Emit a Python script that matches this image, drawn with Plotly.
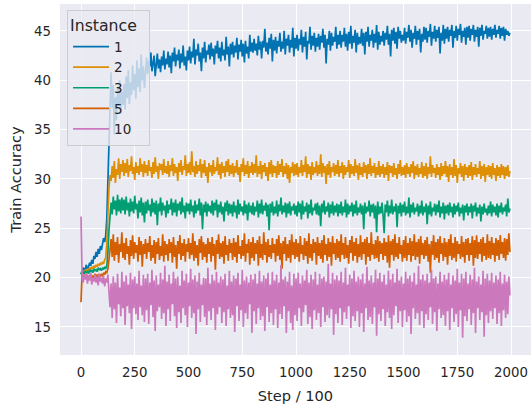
import plotly.graph_objects as go

# Step / 100 axis: one reading every 5 steps, 0 .. 1995 (20 readings per row = 100 steps)
STEP = 5

inst_1 = [
    20.6, 20.4, 21.0, 20.8, 20.9, 21.3, 20.7, 21.1, 21.5, 21.2, 21.8, 21.4, 22.2, 21.9, 22.6, 22.1, 22.9, 22.4, 23.2, 22.8,
    23.4, 24.0, 23.6, 24.3, 26.0, 29.5, 33.0, 36.5, 40.8, 37.2, 39.5, 34.5, 38.3, 36.0, 39.2, 37.4, 40.0, 36.6, 38.8, 37.5,
    39.6, 37.0, 40.4, 38.2, 41.0, 37.6, 39.8, 38.5, 41.5, 39.0, 40.6, 38.1, 42.0, 39.3, 41.2, 38.8, 42.6, 40.0, 41.4, 39.2,
    41.0, 42.3, 40.6, 42.0, 41.4, 42.8, 40.9, 41.8, 42.5, 40.4, 41.9, 42.7, 41.2, 42.1, 40.8, 42.4, 41.5, 43.0, 41.1, 42.2,
    41.6, 42.9, 41.3, 42.5, 40.7, 42.8, 41.9, 43.3, 41.4, 42.6, 42.0, 43.1, 41.2, 42.7, 41.8, 43.5, 41.5, 42.4, 41.0, 43.0,
    42.0, 43.4, 41.7, 42.9, 42.3, 44.2, 41.6, 43.1, 42.5, 43.7, 41.9, 42.8, 40.9, 43.3, 42.2, 43.9, 41.8, 43.0, 42.6, 43.6,
    42.1, 43.8, 42.4, 43.2, 41.6, 43.5, 42.7, 44.0, 42.2, 43.3, 41.9, 43.9, 42.5, 43.1, 42.0, 44.4, 42.6, 43.4, 41.4, 43.7,
    42.6, 43.9, 42.3, 43.5, 42.8, 44.3, 42.1, 43.6, 42.9, 44.1, 42.4, 43.7, 41.8, 44.0, 42.7, 43.4, 42.2, 44.6, 42.9, 43.8,
    42.8, 44.2, 43.0, 43.7, 42.5, 44.5, 43.1, 43.9, 42.2, 44.0, 43.3, 45.2, 42.9, 43.8, 42.6, 44.3, 43.2, 44.7, 41.9, 44.1,
    43.0, 44.4, 42.7, 44.0, 43.4, 44.8, 42.9, 43.9, 43.2, 45.0, 42.6, 44.2, 43.5, 44.6, 42.8, 44.1, 43.3, 45.3, 42.4, 44.3,
    43.2, 44.6, 43.0, 44.2, 43.6, 45.1, 42.8, 44.4, 43.4, 44.9, 42.1, 44.0, 43.7, 45.4, 43.1, 44.5, 43.5, 44.8, 42.9, 44.3,
    43.4, 44.7, 43.1, 44.5, 43.8, 45.2, 43.3, 44.6, 41.7, 44.2, 43.6, 45.0, 43.0, 44.8, 43.5, 44.4, 43.9, 45.4, 43.2, 44.6,
    43.6, 45.0, 43.3, 44.6, 43.9, 45.3, 43.4, 44.7, 43.0, 44.9, 43.7, 45.5, 43.2, 44.5, 43.8, 45.1, 42.8, 44.8, 43.6, 44.4,
    43.7, 45.2, 43.5, 44.8, 42.6, 44.9, 43.9, 45.4, 43.4, 44.6, 44.0, 45.1, 43.3, 44.7, 43.8, 45.6, 43.1, 44.9, 43.6, 44.5,
    43.9, 45.0, 43.5, 44.8, 44.1, 45.5, 43.6, 44.7, 42.4, 45.1, 44.0, 45.3, 43.7, 44.9, 43.2, 45.4, 44.2, 45.0, 43.8, 44.6,
    44.0, 45.3, 43.7, 44.9, 44.3, 45.6, 43.9, 45.1, 43.3, 44.8, 44.2, 45.5, 43.6, 45.0, 44.1, 45.2, 42.8, 44.7, 43.9, 45.4,
    44.1, 45.3, 43.8, 45.0, 44.4, 45.7, 43.5, 44.9, 44.2, 45.5, 43.9, 45.1, 44.3, 45.4, 42.7, 44.8, 44.0, 45.6, 43.7, 45.2,
    44.2, 45.4, 43.9, 45.1, 44.5, 45.6, 43.3, 45.0, 44.3, 45.5, 44.0, 45.2, 44.6, 45.7, 43.8, 45.0, 44.4, 45.3, 43.6, 45.4,
    44.3, 45.5, 44.0, 45.2, 44.6, 45.6, 43.9, 45.1, 44.4, 45.4, 43.4, 45.3, 44.5, 45.6, 44.1, 45.0, 44.7, 45.5, 44.2, 45.3,
    44.4, 45.4, 44.1, 45.2, 44.6, 45.6, 44.3, 45.1, 44.7, 45.5, 44.2, 45.3, 44.5, 45.4, 44.0, 45.2, 44.6, 45.0, 44.5, 44.8,
]

inst_2 = [
    20.5, 20.3, 20.7, 20.5, 20.8, 20.6, 20.9, 20.7, 21.0, 20.8, 21.1, 20.9, 21.2, 21.0, 21.3, 21.1, 21.4, 21.2, 21.5, 21.3,
    21.6, 21.4, 21.8, 22.0, 23.5, 26.5, 29.0, 30.4, 29.8, 31.3, 30.1, 31.8, 29.6, 31.0, 30.4, 32.1, 30.0, 31.5, 30.7, 31.9,
    30.3, 31.6, 30.6, 32.0, 30.2, 31.4, 30.8, 32.3, 30.5, 31.2, 29.9, 31.7, 30.6, 31.3, 30.4, 32.1, 30.7, 31.5, 30.2, 31.8,
    30.6, 31.4, 30.3, 31.9, 30.8, 31.2, 30.1, 31.7, 30.5, 32.2, 30.7, 31.3, 30.0, 31.6, 30.9, 31.5, 30.4, 32.0, 30.6, 31.3,
    30.5, 31.8, 30.2, 31.4, 30.8, 32.1, 30.3, 31.5, 30.6, 31.2, 29.8, 31.6, 30.7, 31.9, 30.4, 31.3, 30.9, 32.4, 30.3, 31.5,
    30.6, 31.7, 30.4, 32.8, 30.7, 31.3, 30.2, 31.8, 30.5, 31.4, 30.8, 32.0, 30.1, 31.5, 30.6, 31.9, 30.3, 31.2, 29.6, 31.6,
    30.7, 31.4, 30.3, 31.9, 30.5, 31.2, 30.8, 32.2, 30.4, 31.5, 30.0, 31.7, 30.6, 31.3, 30.2, 31.8, 30.7, 32.0, 30.3, 31.4,
    30.5, 31.6, 30.2, 31.3, 30.6, 31.9, 30.4, 31.2, 29.7, 31.5, 30.7, 32.1, 30.3, 31.4, 30.5, 31.8, 30.1, 31.3, 30.6, 31.7,
    30.4, 31.5, 30.6, 32.4, 30.2, 31.3, 30.5, 31.8, 30.0, 31.4, 30.7, 31.6, 30.3, 31.2, 29.8, 31.7, 30.5, 31.9, 30.2, 31.4,
    30.6, 31.3, 30.1, 31.8, 30.4, 31.5, 30.7, 32.0, 30.2, 31.3, 30.5, 31.6, 30.0, 31.4, 29.6, 31.2, 30.6, 31.7, 30.3, 31.5,
    30.4, 31.6, 30.2, 31.2, 30.6, 31.9, 30.3, 31.4, 30.7, 32.3, 30.1, 31.5, 30.5, 31.3, 29.9, 31.7, 30.4, 31.2, 30.6, 31.8,
    30.3, 31.4, 30.5, 32.5, 30.2, 31.6, 30.6, 31.3, 29.5, 31.5, 30.4, 31.8, 30.1, 31.2, 30.7, 31.6, 30.3, 31.4, 30.5, 31.9,
    30.2, 31.3, 30.6, 31.7, 30.0, 31.4, 30.4, 31.2, 30.7, 31.9, 30.1, 31.5, 30.5, 31.3, 30.3, 32.0, 30.6, 31.4, 29.9, 31.6,
    30.4, 31.2, 30.2, 31.7, 30.6, 31.4, 30.0, 31.5, 30.5, 32.1, 30.3, 31.3, 30.6, 31.6, 30.1, 31.2, 30.4, 31.8, 30.2, 31.3,
    30.5, 31.5, 30.1, 31.2, 30.4, 31.7, 29.8, 31.4, 30.6, 31.3, 30.2, 31.6, 30.4, 31.1, 30.0, 31.5, 30.5, 31.9, 30.3, 31.2,
    30.4, 31.4, 30.1, 31.6, 30.5, 31.2, 30.2, 31.5, 30.6, 31.8, 30.0, 31.3, 30.4, 31.5, 30.2, 31.1, 30.5, 31.7, 30.1, 31.3,
    30.3, 31.6, 30.0, 31.2, 30.5, 32.3, 30.2, 31.4, 30.6, 31.1, 30.1, 31.5, 30.4, 31.2, 29.9, 31.6, 30.3, 31.3, 30.5, 31.8,
    30.2, 31.3, 29.7, 31.5, 30.4, 31.2, 30.1, 32.0, 30.3, 31.4, 29.6, 31.1, 30.5, 31.6, 30.2, 31.3, 29.8, 31.5, 30.4, 31.2,
    30.1, 31.4, 30.3, 31.7, 29.9, 31.2, 30.4, 31.5, 30.2, 31.1, 30.5, 31.8, 30.0, 31.3, 30.3, 31.5, 29.7, 31.2, 30.4, 31.4,
    30.2, 31.3, 30.0, 31.6, 30.4, 31.1, 29.8, 31.4, 30.3, 31.2, 30.1, 31.5, 30.4, 31.3, 30.0, 31.2, 30.3, 31.4, 30.2, 30.8,
]

inst_3 = [
    20.5, 20.2, 20.6, 20.4, 20.7, 20.5, 20.6, 20.4, 20.8, 20.6, 20.7, 20.5, 20.9, 20.7, 20.8, 20.6, 21.0, 20.8, 20.9, 20.7,
    21.0, 20.8, 21.1, 20.9, 21.2, 22.5, 24.8, 26.5, 27.6, 26.4, 28.2, 26.9, 27.8, 26.3, 28.4, 26.7, 27.9, 26.5, 28.1, 26.8,
    27.9, 26.4, 28.2, 26.8, 27.6, 26.2, 28.0, 26.7, 27.7, 26.5, 28.3, 26.9, 27.5, 26.0, 27.8, 26.6, 28.1, 26.3, 27.6, 25.6,
    27.7, 26.5, 27.9, 26.8, 27.4, 26.2, 28.0, 26.6, 27.6, 26.4, 27.8, 25.3, 27.5, 26.7, 28.1, 26.3, 27.6, 26.8, 27.3, 26.1,
    27.8, 26.5, 27.4, 26.9, 28.0, 26.3, 27.6, 26.6, 27.9, 26.2, 27.5, 26.8, 27.7, 26.4, 28.1, 26.6, 27.3, 26.0, 27.6, 26.7,
    27.5, 26.4, 27.9, 26.7, 27.3, 26.1, 27.8, 26.5, 27.4, 26.8, 28.0, 26.3, 27.6, 24.9, 27.4, 26.6, 27.7, 26.2, 27.5, 26.7,
    27.3, 26.5, 27.8, 26.3, 27.6, 26.8, 27.9, 26.1, 27.4, 26.6, 27.7, 26.4, 27.2, 25.7, 27.6, 26.7, 27.8, 26.3, 27.5, 26.5,
    27.4, 26.2, 27.7, 26.6, 27.3, 26.0, 27.9, 26.4, 27.5, 26.7, 27.2, 26.3, 27.8, 26.5, 27.4, 25.8, 27.6, 26.6, 27.3, 26.4,
    27.6, 26.3, 27.2, 26.7, 27.8, 26.1, 27.5, 26.5, 27.9, 26.4, 27.3, 26.8, 27.6, 26.2, 27.4, 24.8, 27.5, 26.6, 27.7, 26.3,
    27.2, 26.5, 27.8, 26.2, 27.4, 26.7, 28.1, 26.4, 27.3, 26.6, 27.6, 26.1, 27.5, 26.5, 27.7, 26.3, 27.2, 26.8, 27.5, 26.4,
    27.3, 26.2, 27.7, 26.6, 27.5, 25.9, 27.8, 26.4, 27.2, 26.7, 27.6, 26.0, 27.4, 26.5, 27.9, 26.3, 27.1, 26.8, 27.5, 26.4,
    27.6, 26.3, 27.3, 25.2, 27.5, 26.6, 27.8, 26.4, 27.2, 26.7, 27.6, 26.1, 27.4, 26.5, 27.7, 26.3, 27.3, 26.6, 27.5, 26.2,
    27.4, 26.5, 27.7, 26.3, 27.2, 26.6, 27.9, 26.1, 27.5, 26.4, 27.3, 26.7, 27.6, 26.2, 27.4, 26.5, 27.8, 26.3, 27.1, 26.6,
    27.5, 26.4, 27.3, 24.9, 27.6, 26.5, 27.2, 26.7, 27.8, 26.2, 27.4, 26.6, 27.5, 26.0, 27.3, 24.6, 27.7, 26.4, 27.2, 26.5,
    27.6, 26.3, 24.5, 27.4, 26.6, 27.8, 26.2, 27.3, 26.5, 27.9, 26.4, 27.2, 26.7, 27.5, 25.1, 27.3, 26.5, 27.6, 26.2, 27.4,
    26.6, 27.7, 26.3, 27.2, 26.5, 28.1, 26.1, 27.4, 26.6, 27.6, 26.4, 27.1, 26.7, 27.5, 26.2, 27.3, 26.5, 27.8, 26.3, 27.2,
    26.6, 27.5, 25.4, 27.3, 26.4, 27.7, 26.2, 27.1, 26.7, 27.5, 26.3, 27.4, 26.6, 27.8, 26.1, 27.2, 26.5, 27.6, 25.9, 27.3,
    26.5, 27.4, 26.3, 27.6, 26.6, 27.2, 26.1, 27.5, 26.4, 27.3, 26.7, 27.6, 26.2, 27.1, 26.5, 27.4, 25.8, 27.3, 26.6, 27.5,
    26.3, 27.2, 26.6, 27.5, 26.0, 27.3, 26.7, 27.6, 26.2, 27.1, 26.5, 27.4, 25.7, 27.2, 26.4, 27.5, 26.6, 27.0, 26.3, 27.3,
    26.5, 27.7, 26.2, 27.4, 26.6, 27.2, 26.3, 27.5, 26.1, 27.3, 26.6, 27.6, 26.4, 27.1, 26.7, 27.4, 26.2, 28.0, 26.6, 27.0,
]

inst_5 = [
    17.5, 20.4, 19.9, 20.3, 20.0, 20.4, 19.8, 20.2, 20.0, 20.3, 19.9, 20.2, 20.0, 20.4, 20.1, 20.3, 20.0, 20.4, 20.1, 20.3,
    20.2, 20.5, 20.3, 20.6, 20.5, 20.9, 21.8, 22.8, 23.9, 22.1, 24.4, 21.7, 23.6, 22.3, 24.1, 21.5, 23.4, 22.6, 24.6, 22.0,
    23.5, 21.8, 24.0, 22.4, 23.2, 21.3, 23.8, 22.2, 24.3, 21.9, 23.6, 22.5, 23.3, 21.6, 24.1, 22.3, 23.7, 21.1, 23.4, 22.4,
    23.9, 21.9, 23.5, 22.6, 24.2, 21.7, 23.3, 22.0, 23.8, 21.4, 23.6, 22.4, 24.0, 21.8, 23.2, 22.2, 24.4, 21.6, 23.7, 22.3,
    23.4, 21.7, 23.9, 22.5, 23.6, 21.5, 24.1, 22.1, 23.3, 20.9, 23.7, 22.4, 24.3, 21.8, 23.5, 22.2, 23.9, 21.6, 23.4, 22.6,
    24.0, 21.9, 23.5, 22.3, 24.5, 21.7, 23.7, 22.0, 23.3, 21.2, 23.9, 22.5, 24.2, 21.8, 23.6, 22.1, 23.4, 21.5, 24.0, 22.4,
    23.6, 21.6, 24.1, 22.2, 23.4, 20.8, 23.8, 22.4, 24.4, 21.9, 23.5, 22.1, 23.7, 21.4, 24.2, 22.3, 23.3, 21.7, 23.9, 22.5,
    23.5, 21.8, 24.0, 22.1, 23.6, 21.5, 24.3, 22.4, 23.2, 21.9, 23.8, 22.2, 24.5, 21.6, 23.4, 22.5, 23.9, 21.3, 23.6, 22.0,
    24.1, 21.7, 23.5, 22.4, 23.8, 21.2, 24.2, 22.0, 23.4, 21.8, 24.6, 22.3, 23.6, 21.5, 23.9, 22.1, 23.3, 21.9, 24.0, 22.5,
    23.4, 21.6, 23.9, 22.2, 24.3, 21.8, 23.5, 20.9, 23.7, 22.4, 24.1, 21.7, 23.4, 22.0, 23.8, 21.5, 24.4, 22.3, 23.6, 21.9,
    23.9, 22.1, 23.5, 21.6, 24.2, 22.4, 23.3, 21.8, 24.0, 22.2, 23.7, 21.4, 24.5, 22.0, 23.4, 21.7, 23.9, 22.5, 23.6, 21.3,
    24.1, 22.2, 23.5, 21.9, 23.8, 21.5, 24.3, 22.3, 23.4, 21.7, 24.0, 22.1, 23.6, 21.2, 24.2, 22.4, 23.5, 21.8, 23.9, 22.0,
    23.7, 21.6, 24.4, 22.3, 23.5, 21.9, 24.1, 22.0, 23.3, 21.4, 23.8, 22.5, 24.2, 21.7, 23.6, 22.2, 24.0, 21.5, 23.4, 22.1,
    24.3, 21.8, 23.6, 22.4, 23.9, 21.3, 24.1, 22.1, 23.5, 21.7, 24.6, 22.3, 23.4, 21.9, 23.8, 22.0, 24.2, 21.6, 23.7, 22.4,
    23.5, 21.8, 24.0, 22.2, 23.6, 21.5, 24.3, 21.0, 23.7, 22.3, 23.9, 21.7, 24.4, 22.1, 23.5, 21.9, 24.1, 22.4, 23.3, 21.6,
    23.8, 22.0, 24.2, 21.7, 23.5, 22.3, 24.0, 21.6, 23.7, 22.2, 24.4, 21.8, 23.6, 22.1, 23.9, 21.4, 24.2, 22.3, 23.5, 21.9,
    23.8, 22.2, 24.1, 21.6, 23.4, 20.5, 23.7, 22.3, 24.3, 21.8, 23.6, 22.0, 23.9, 21.5, 24.2, 22.4, 23.5, 21.7, 24.0, 22.1,
    23.6, 21.3, 23.9, 22.2, 24.4, 21.8, 23.5, 22.0, 24.1, 21.6, 23.7, 22.4, 23.4, 21.9, 24.2, 22.1, 23.6, 21.5, 23.9, 22.3,
    24.0, 21.7, 23.5, 22.3, 24.2, 21.2, 23.8, 22.0, 24.3, 21.9, 23.6, 22.4, 23.9, 21.6, 24.1, 22.2, 23.5, 21.8, 24.4, 22.0,
    23.7, 21.9, 24.1, 22.3, 23.5, 21.6, 24.0, 22.2, 23.8, 21.8, 24.3, 22.4, 23.6, 22.0, 24.0, 21.7, 23.9, 22.3, 24.5, 22.6,
]

inst_10 = [
    26.2, 20.1, 19.5, 20.3, 19.8, 20.4, 19.4, 20.2, 19.7, 20.5, 19.3, 20.0, 19.6, 20.3, 19.5, 20.1, 19.2, 20.4, 19.6, 20.0,
    19.4, 20.2, 19.1, 19.9, 19.5, 20.3, 18.6, 17.0, 19.4, 15.9, 20.1, 16.8, 19.5, 15.4, 20.4, 17.3, 19.0, 16.1, 20.6, 16.9,
    19.6, 15.2, 20.2, 17.1, 19.3, 16.4, 20.5, 14.8, 19.8, 16.9, 20.1, 16.3, 19.4, 15.7, 20.7, 17.0, 19.2, 16.2, 20.3, 15.5,
    19.9, 16.7, 20.4, 15.3, 19.5, 17.2, 20.8, 16.0, 19.7, 14.6, 20.2, 16.6, 19.3, 17.0, 20.5, 15.8, 19.8, 16.4, 21.2, 15.1,
    19.6, 16.8, 20.3, 15.6, 19.4, 17.3, 20.6, 16.1, 19.9, 14.9, 20.1, 16.5, 19.2, 15.4, 20.7, 16.9, 19.7, 16.2, 20.4, 15.0,
    19.5, 17.1, 20.9, 15.9, 19.8, 16.4, 20.2, 14.3, 19.6, 16.8, 20.5, 15.5, 19.3, 17.2, 20.0, 16.0, 19.9, 15.2, 21.0, 16.6,
    19.4, 15.7, 20.3, 16.9, 19.7, 14.7, 20.6, 16.3, 19.5, 17.0, 20.1, 15.4, 19.8, 16.5, 20.4, 15.1, 19.2, 16.8, 20.7, 15.9,
    19.6, 16.2, 20.2, 14.5, 19.9, 17.1, 20.5, 15.6, 19.3, 16.7, 20.8, 15.0, 19.7, 16.4, 20.1, 15.8, 19.5, 17.3, 20.3, 14.4,
    19.8, 16.6, 20.4, 15.3, 19.4, 16.9, 20.7, 15.7, 19.6, 16.1, 20.2, 14.6, 19.9, 17.0, 20.5, 15.5, 19.3, 16.4, 20.6, 15.2,
    19.7, 16.8, 20.3, 14.9, 19.5, 16.3, 21.3, 15.8, 19.8, 17.1, 20.1, 14.4, 19.6, 16.6, 20.6, 15.4, 19.2, 14.7, 20.4, 16.2,
    19.9, 15.6, 20.5, 16.9, 19.4, 15.1, 20.2, 16.5, 19.7, 17.2, 20.8, 15.3, 19.5, 16.0, 20.3, 14.8, 19.8, 16.7, 20.6, 15.7,
    19.3, 16.4, 20.4, 15.0, 19.9, 17.0, 20.1, 15.5, 19.6, 16.2, 21.4, 15.9, 19.4, 16.8, 20.5, 14.2, 19.8, 16.3, 20.2, 15.4,
    19.7, 16.9, 20.6, 15.2, 19.5, 16.5, 21.0, 15.8, 19.3, 17.1, 20.3, 14.9, 19.9, 16.1, 20.7, 15.6, 19.6, 16.6, 20.1, 15.0,
    19.8, 16.4, 20.4, 14.5, 19.4, 16.9, 21.1, 15.7, 19.7, 16.0, 20.2, 15.3, 19.5, 17.0, 20.8, 14.1, 19.9, 16.3, 20.5, 15.6,
    19.6, 16.8, 20.3, 15.1, 19.3, 16.5, 20.7, 15.9, 19.8, 14.8, 20.4, 16.2, 19.5, 17.1, 20.9, 15.4, 19.7, 16.6, 20.1, 15.0,
    19.4, 16.7, 20.6, 15.5, 19.9, 16.1, 20.2, 14.3, 19.6, 16.9, 20.5, 15.8, 19.3, 16.4, 21.2, 15.2, 19.8, 16.6, 20.3, 14.9,
    19.7, 16.3, 20.4, 15.7, 19.5, 17.0, 20.8, 15.3, 19.9, 16.5, 20.1, 14.6, 19.4, 16.8, 20.6, 15.9, 19.6, 16.2, 20.3, 15.1,
    19.8, 16.6, 20.5, 14.7, 19.3, 16.9, 20.2, 15.5, 19.7, 16.3, 20.9, 15.0, 19.5, 16.7, 20.4, 13.9, 19.9, 16.1, 20.6, 15.6,
    19.4, 16.8, 20.3, 15.2, 19.8, 16.4, 21.0, 14.4, 19.6, 16.9, 20.1, 15.7, 19.3, 16.5, 20.7, 14.0, 19.9, 16.2, 20.4, 15.4,
    19.7, 16.6, 20.5, 15.8, 19.5, 16.9, 20.2, 15.3, 19.8, 16.4, 20.6, 15.1, 19.4, 16.7, 20.3, 15.9, 19.6, 16.3, 20.1, 18.2,
]

labels = ["1", "2", "3", "5", "10"]
series = [inst_1, inst_2, inst_3, inst_5, inst_10]
colors = ["#0173b2", "#de8f05", "#029e73", "#d55e00", "#cc78bc"]

x_ticks = [0, 250, 500, 750, 1000, 1250, 1500, 1750, 2000]
y_ticks = [15, 20, 25, 30, 35, 40, 45]

FONT = "DejaVu Sans, Liberation Sans, sans-serif"
TXT = "#262626"

fig = go.Figure()
for lab, vals, col in zip(labels, series, colors):
    fig.add_trace(go.Scatter(
        x=[i * STEP for i in range(len(vals))],
        y=vals,
        mode="lines",
        name=lab,
        line=dict(color=col, width=1.7),
    ))

fig.update_layout(
    width=531, height=404,
    margin=dict(l=60, r=0, t=4, b=49, autoexpand=False),
    paper_bgcolor="white",
    plot_bgcolor="#eaeaf2",
    font=dict(family=FONT, color=TXT, size=13),
    showlegend=True,
    legend=dict(
        x=0.015, y=0.983, xanchor="left", yanchor="top",
        bgcolor="rgba(234,234,242,0.8)",
        bordercolor="#cccccc", borderwidth=1,
        # trailing no-break spaces only widen the box to match the reference frame
        title=dict(text="Instance\u00a0\u00a0", font=dict(size=15.7, color=TXT)),
        font=dict(size=13.5, color=TXT),
        itemwidth=36,
    ),
    xaxis=dict(
        range=[-97.7, 2093],
        tickvals=x_ticks,
        ticktext=[str(v) for v in x_ticks],
        showgrid=True, gridcolor="white", gridwidth=1.3,
        zeroline=False, showline=False, ticks="",
        tickfont=dict(size=13.3, color=TXT),
        ticklabelstandoff=8,
        automargin=False,
        title=dict(text="Step / 100", font=dict(size=14.6, color=TXT), standoff=11),
    ),
    yaxis=dict(
        range=[12.16, 47.72],
        tickvals=y_ticks,
        ticktext=[str(v) for v in y_ticks],
        showgrid=True, gridcolor="white", gridwidth=1.3,
        zeroline=False, showline=False, ticks="",
        tickfont=dict(size=13.3, color=TXT),
        ticklabelstandoff=8,
        automargin=False,
        title=dict(text="Train Accuracy", font=dict(size=14.6, color=TXT), standoff=8),
    ),
)

fig.write_html(
    "out.html",
    config={"displayModeBar": False},
    post_script="document.body.style.margin='0';document.body.style.overflow='hidden';",
)
